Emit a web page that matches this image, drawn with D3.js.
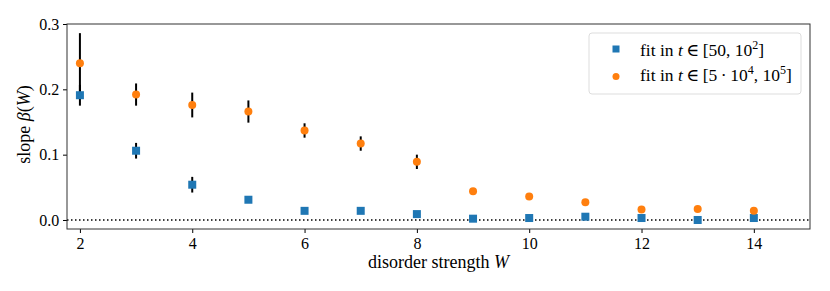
<!DOCTYPE html>
<html>
<head>
<meta charset="utf-8">
<script src="https://cdn.jsdelivr.net/npm/d3@7"></script>
<style>
  body { margin: 0; background: #fff; }
  svg text { font-family: "Liberation Serif", "DejaVu Serif", serif; }
</style>
</head>
<body>
<div id="chart"></div>
<script>
// disorder strengths
var W = [2, 3, 4, 5, 6, 7, 8, 9, 10, 11, 12, 13, 14]
// fit in t in [50, 10^2]
var earlySlope = [0.191, 0.106, 0.054, 0.031, 0.014, 0.014, 0.009, 0.002, 0.003, 0.005, 0.003, 0.000, 0.003]
var earlyErr   = [0.016, 0.012, 0.012, 0.004, 0.003, 0.003, 0.002, 0.002, 0.002, 0.002, 0.002, 0.002, 0.002]
// fit in t in [5*10^4, 10^5]
var lateSlope = [0.240, 0.192, 0.176, 0.166, 0.137, 0.117, 0.089, 0.044, 0.036, 0.027, 0.016, 0.017, 0.014]
var lateErr   = [0.046, 0.017, 0.019, 0.017, 0.011, 0.011, 0.011, 0.003, 0.003, 0.002, 0.002, 0.002, 0.002]
var xTicks = [2, 4, 6, 8, 10, 12, 14]
var yTicks = [0.0, 0.1, 0.2, 0.3]

var margin = {top: 24, right: 20, bottom: 62, left: 67}
var width = 830 - margin.left - margin.right
var height = 291 - margin.top - margin.bottom

var xScale = d3.scaleLinear().domain([1.77, 15.0]).range([0, width])
var yScale = d3.scaleLinear().domain([-0.0138, 0.3]).range([height, 0])

var svg = d3.select("#chart").append("svg")
    .attr("width", 830)
    .attr("height", 291)
    .append("g")
    .attr("transform", "translate(" + margin.left + "," + margin.top + ")")

/* zero line */
svg.append("line")
    .attr("x1", 0).attr("x2", width)
    .attr("y1", yScale(0)).attr("y2", yScale(0))
    .attr("stroke", "#000")
    .attr("stroke-width", 1.5)
    .attr("stroke-dasharray", "1.5,2.5")

/* error bars */
function errorBars(vals, errs) {
    svg.append("g").selectAll("line")
        .data(W)
        .enter()
        .append("line")
        .attr("x1", d => xScale(d)).attr("x2", d => xScale(d))
        .attr("y1", (d, i) => yScale(vals[i] - errs[i]))
        .attr("y2", (d, i) => yScale(vals[i] + errs[i]))
        .attr("stroke", "#000")
        .attr("stroke-width", 2)
}
errorBars(earlySlope, earlyErr)
errorBars(lateSlope, lateErr)

/* markers */
svg.append("g").selectAll("rect")
    .data(W)
    .enter()
    .append("rect")
    .attr("x", d => xScale(d) - 4)
    .attr("y", (d, i) => yScale(earlySlope[i]) - 4)
    .attr("width", 8).attr("height", 8)
    .attr("fill", "#1f77b4")

svg.append("g").selectAll("circle")
    .data(W)
    .enter()
    .append("circle")
    .attr("cx", d => xScale(d))
    .attr("cy", (d, i) => yScale(lateSlope[i]))
    .attr("r", 4)
    .attr("fill", "#ff7f0e")

/* axes */
var xAxis = d3.axisBottom(xScale).tickValues(xTicks).tickFormat(d3.format("d")).tickSizeOuter(0).tickSize(4)
var yAxis = d3.axisLeft(yScale).tickValues(yTicks).tickFormat(d3.format(".1f")).tickSizeOuter(0).tickSize(4)

var gx = svg.append("g")
    .attr("transform", "translate(0," + height + ")")
    .call(xAxis)
gx.select(".domain").remove()
gx.selectAll("text").attr("font-size", "16px").attr("fill", "#000").attr("dy", "0.8em")
gx.selectAll("line").attr("stroke", "#000")

var gy = svg.append("g").call(yAxis)
gy.select(".domain").remove()
gy.selectAll("text").attr("font-size", "16px").attr("fill", "#000").attr("dx", "-0.05em")
gy.selectAll("line").attr("stroke", "#000")

/* frame */
svg.append("rect")
    .attr("x", 0).attr("y", 0)
    .attr("width", width).attr("height", height)
    .attr("fill", "none")
    .attr("stroke", "#333")
    .attr("stroke-width", 1)

/* axis labels */
var xl = svg.append("text")
    .attr("x", width / 2)
    .attr("y", height + 39)
    .attr("text-anchor", "middle")
    .attr("font-size", "18px")
xl.append("tspan").text("disorder strength ")
xl.append("tspan").attr("font-style", "italic").text("W")

var yl = svg.append("text")
    .attr("transform", "translate(-37," + (height / 2 - 2) + ") rotate(-90)")
    .attr("text-anchor", "middle")
    .attr("font-size", "18px")
yl.append("tspan").text("slope ")
yl.append("tspan").attr("font-style", "italic").text("β")
yl.append("tspan").text("(")
yl.append("tspan").attr("font-style", "italic").text("W")
yl.append("tspan").text(")")

/* legend */
var leg = svg.append("g").attr("transform", "translate(" + (589 - margin.left) + "," + (33 - margin.top) + ")")
leg.append("rect")
    .attr("width", 212).attr("height", 61)
    .attr("rx", 3)
    .attr("fill", "#fff")
    .attr("fill-opacity", 0.8)
    .attr("stroke", "#ddd")

leg.append("rect")
    .attr("x", 23.5).attr("y", 12.5).attr("width", 7).attr("height", 7)
    .attr("fill", "#1f77b4")
leg.append("circle")
    .attr("cx", 27).attr("cy", 43.5).attr("r", 3.5)
    .attr("fill", "#ff7f0e")

var t1 = leg.append("text").attr("x", 51).attr("y", 23).attr("font-size", "17.5px")
t1.append("tspan").text("fit in ")
t1.append("tspan").attr("font-style", "italic").text("t")
t1.append("tspan").text("\u2009∈\u2009[50, 10")
t1.append("tspan").attr("font-size", "12px").attr("dy", "-7").text("2")
t1.append("tspan").attr("dy", "7").text("]")

var t2 = leg.append("text").attr("x", 51).attr("y", 48).attr("font-size", "17.5px")
t2.append("tspan").text("fit in ")
t2.append("tspan").attr("font-style", "italic").text("t")
t2.append("tspan").text("\u2009∈\u2009[5\u2009·\u200910")
t2.append("tspan").attr("font-size", "12px").attr("dy", "-7").text("4")
t2.append("tspan").attr("dy", "7").text(", 10")
t2.append("tspan").attr("font-size", "12px").attr("dy", "-7").text("5")
t2.append("tspan").attr("dy", "7").text("]")
</script>
</body>
</html>
